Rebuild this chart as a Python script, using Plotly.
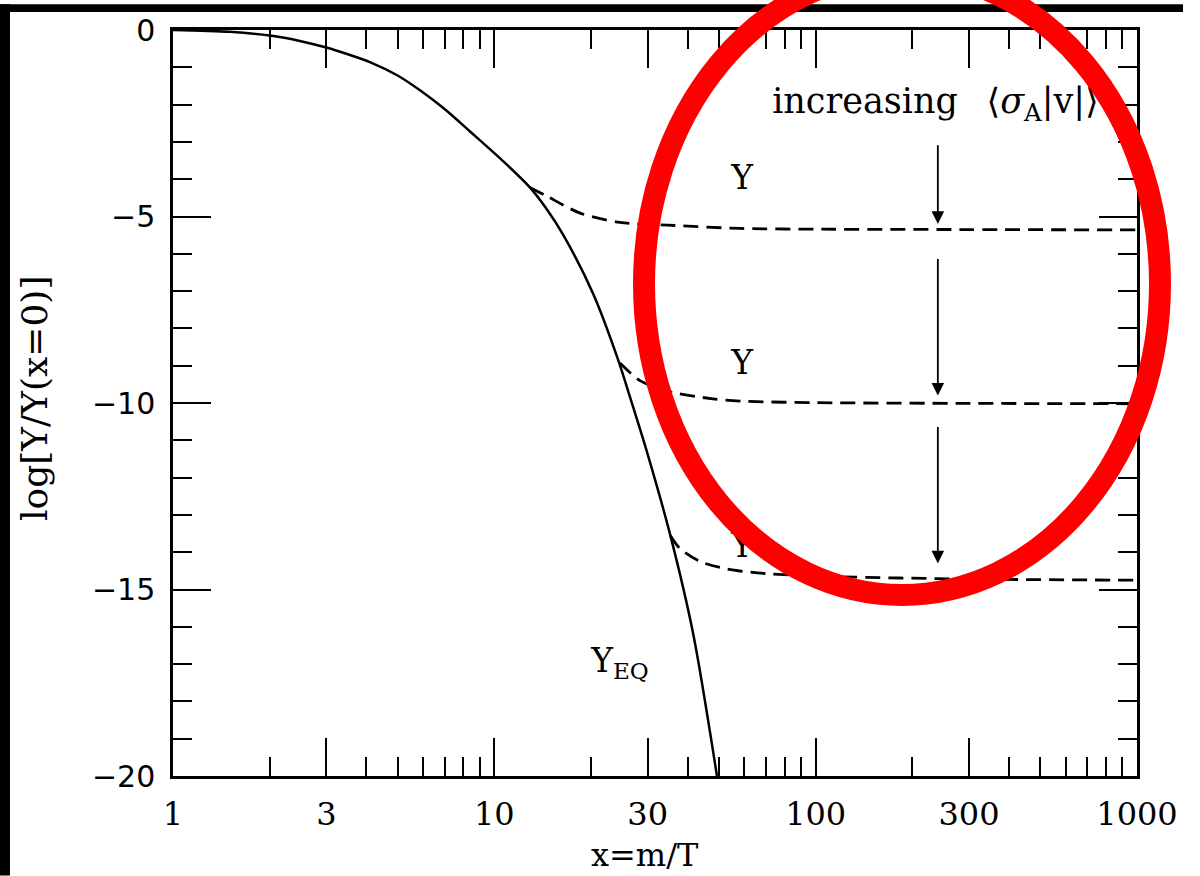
import math
import plotly.graph_objects as go

# ---------------- data ----------------
yeq_x = [1, 1.5, 2, 2.5, 3, 3.5, 4.1, 5, 5.9, 7, 8.4, 10.6, 12.9, 14.6, 16.4, 20.3, 24.3, 26.5, 29.9, 35.3, 41.6, 49.3]
yeq_y = [0, -0.05, -0.15, -0.3, -0.47, -0.65, -0.86, -1.22, -1.63, -2.12, -2.72, -3.5, -4.22, -4.82, -5.5,
         -7.07, -8.85, -9.87, -11.33, -13.55, -16.2, -20.0]

y1_x = [12.9, 14.6, 18.5, 24.6, 34.5, 58.2, 100, 300, 1000]
y1_y = [-4.22, -4.46, -4.91, -5.16, -5.23, -5.32, -5.34, -5.35, -5.36]
y2_x = [24.6, 28.4, 34.5, 47.9, 58.2, 100, 300, 1000]
y2_y = [-8.93, -9.4, -9.68, -9.89, -9.95, -9.99, -10.01, -10.02]
y3_x = [35.3, 37.8, 43.7, 53, 67.1, 100, 300, 1000]
y3_y = [-13.55, -13.9, -14.25, -14.45, -14.56, -14.64, -14.72, -14.75]

x_tickvals = [1, 3, 10, 30, 100, 300, 1000]
x_ticktext = ["1", "3", "10", "30", "100", "300", "1000"]
x_minorvals = [2, 4, 5, 6, 7, 8, 9, 20, 40, 50, 60, 70, 80, 90,
               200, 400, 500, 600, 700, 800, 900]
y_tickvals = [0, -5, -10, -15, -20]
y_ticktext = ["0", "\u22125", "\u221210", "\u221215", "\u221220"]

# arrows: x position, (tail, tip) pairs
arrow_x = 240
arrow_segments = [(-3.05, -5.2), (-6.1, -9.8), (-10.6, -14.3)]

# labels
label_text = ["Y", "Y", "Y", "Y<sub>EQ</sub>"]
label_x = [59, 59, 59, 24.6]
label_y = [-4.05, -9.0, -13.9, -17.0]

# ---------------- layout geometry (pixels) ----------------
W, H = 1200, 876
PL, PR, PT, PB = 173, 1137, 26, 776


def px(xp):
    return (xp - PL) / (PR - PL)


def py(yp):
    return (PB - yp) / (PB - PT)


SERIF = "DejaVu Serif"
SANS = "DejaVu Sans"

fig = go.Figure()

fig.add_trace(go.Scatter(x=yeq_x, y=yeq_y, mode="lines",
                         line=dict(color="black", width=2.5, shape="spline", smoothing=0.8),
                         hoverinfo="skip"))
for xs, ys in [(y1_x, y1_y), (y2_x, y2_y), (y3_x, y3_y)]:
    fig.add_trace(go.Scatter(x=xs, y=ys, mode="lines",
                             line=dict(color="black", width=2.8, dash="15px,8px", shape="spline", smoothing=0.8),
                             hoverinfo="skip"))

fig.add_trace(go.Scatter(x=label_x, y=label_y, mode="text", text=label_text,
                         textposition="middle center",
                         textfont=dict(family=SERIF, size=33, color="black"),
                         hoverinfo="skip", cliponaxis=False))
fig.add_trace(go.Scatter(x=[73.2], y=[-2.0], mode="text",
                         text=["increasing\u2002 \u27e8<i>\u03c3</i><sub>A</sub>|v|\u27e9"],
                         textposition="middle right",
                         textfont=dict(family=SERIF, size=35, color="black"),
                         hoverinfo="skip", cliponaxis=False))

annotations = []
for tail, tip in arrow_segments:
    annotations.append(dict(x=math.log10(arrow_x), y=tip, ax=math.log10(arrow_x), ay=tail,
                            xref="x", yref="y", axref="x", ayref="y", text="",
                            showarrow=True, arrowhead=2, arrowsize=1.4, arrowwidth=1.8,
                            arrowcolor="black"))

annotations.append(dict(x=px(34), y=py(397), xref="paper", yref="paper", text="log[Y/Y(x=0)]",
                        showarrow=False, textangle=-90, xanchor="center", yanchor="middle",
                        font=dict(family=SERIF, size=36, color="black")))
annotations.append(dict(x=px(645), y=py(855), xref="paper", yref="paper", text="x=m/T",
                        showarrow=False, xanchor="center", yanchor="middle",
                        font=dict(family=SERIF, size=32, color="black")))

# red ellipse (centre line), in pixels
ell_cx, ell_cy, ell_rx, ell_ry = 902, 281, 258, 313

shapes = [
    dict(type="rect", xref="paper", yref="paper", x0=px(0), x1=px(10), y0=py(876), y1=py(0),
         fillcolor="black", line=dict(width=0), layer="below"),
    dict(type="rect", xref="paper", yref="paper", x0=px(0), x1=px(1183), y0=py(8), y1=py(0),
         fillcolor="black", line=dict(width=0), layer="below"),
    dict(type="circle", xref="paper", yref="paper",
         x0=px(ell_cx - ell_rx), x1=px(ell_cx + ell_rx),
         y0=py(ell_cy + ell_ry), y1=py(ell_cy - ell_ry),
         line=dict(color="#ff0000", width=22), fillcolor="rgba(0,0,0,0)", layer="above"),
]

fig.update_layout(
    width=W, height=H, autosize=False,
    margin=dict(l=PL, r=W - PR, t=PT, b=H - PB, pad=0),
    paper_bgcolor="white", plot_bgcolor="white",
    showlegend=False,
    annotations=annotations,
    shapes=shapes,
    xaxis=dict(type="log", range=[0, 3], showgrid=False, zeroline=False,
               showline=True, linecolor="black", linewidth=2.5, mirror="ticks",
               ticks="inside", ticklen=38, tickwidth=2.2, tickcolor="black",
               tickvals=x_tickvals, ticktext=x_ticktext,
               tickfont=dict(family=SERIF, size=32, color="black"),
               ticklabelstandoff=8,
               minor=dict(tickvals=x_minorvals, ticks="inside", ticklen=19, tickwidth=2.2,
                          tickcolor="black", showgrid=False)),
    yaxis=dict(range=[-20, 0], showgrid=False, zeroline=False,
               showline=True, linecolor="black", linewidth=2.5, mirror="ticks",
               ticks="inside", ticklen=38, tickwidth=2.2, tickcolor="black",
               tickvals=y_tickvals, ticktext=y_ticktext,
               tickfont=dict(family=SANS, size=30, color="black"),
               ticklabelstandoff=9,
               minor=dict(dtick=1, tick0=0, ticks="inside", ticklen=19, tickwidth=2.2,
                          tickcolor="black", showgrid=False)),
)

fig.write_html("out.html")
